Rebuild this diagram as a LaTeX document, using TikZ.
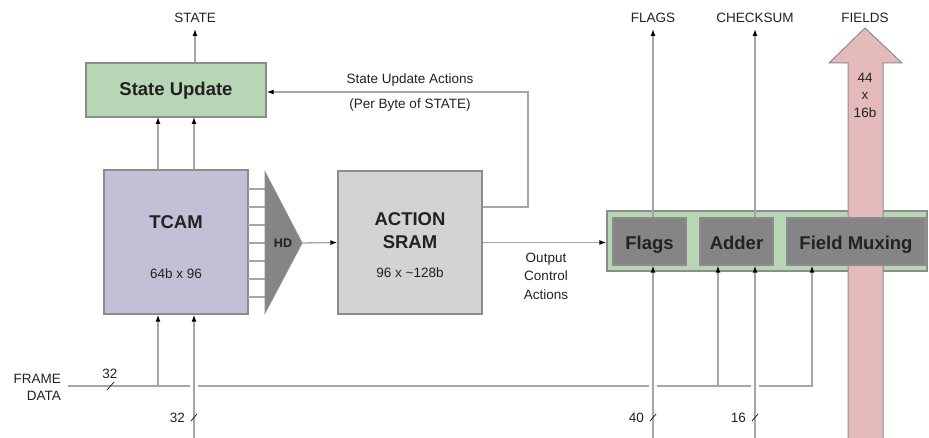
\documentclass[tikz,border=0pt]{standalone}
\usepackage{fontspec}
\setmainfont{Liberation Sans}
\usetikzlibrary{arrows.meta}
\definecolor{lineg}{HTML}{A6A6A6}
\definecolor{boxb}{HTML}{8C8C8C}
\definecolor{greenf}{HTML}{B6D6B5}
\definecolor{tcamf}{HTML}{C1C0D7}
\definecolor{sramf}{HTML}{D3D3D3}
\definecolor{darkf}{HTML}{858585}
\definecolor{pinkf}{HTML}{E5BABA}
\definecolor{txt}{HTML}{222222}
\begin{document}
\begin{tikzpicture}[x=1pt,y=-1pt,
  ln/.style={draw=lineg, line width=1.3pt},
  arr/.style={ln, -{Latex[length=7pt,width=5pt,color=black]}},
  box/.style={draw=boxb, line width=1.3pt, inner sep=0pt},
  lbl/.style={font=\fontsize{13.5}{17}\selectfont, text=txt, inner sep=1pt},
  big/.style={font=\fontsize{18.5}{22}\selectfont\bfseries, text=txt, inner sep=1pt},
  darkbox/.style={box, big, fill=darkf, minimum height=47pt, text height=16pt, text depth=0pt},
  slash/.style={draw=txt, line width=0.8pt}
]
\useasboundingbox (0,0) rectangle (929,438);
\fill[white] (0,0) rectangle (929,438);

% boxes
\node[box, fill=greenf, minimum width=180pt, minimum height=54pt] (su) at (176,90) {};
\node[big] (suT) at (176,91) {State Update};
\node[box, fill=tcamf, minimum width=144pt, minimum height=144pt] (tcam) at (176,242) {};
\draw[lineg!70, line width=1pt, dotted] (158,171) -- (158,313);
\draw[lineg!70, line width=1pt, dotted] (194,171) -- (194,313);
\node[big] (tcamT) at (176,222) {TCAM};
\node[lbl] (tcamS) at (176,274) {64b x 96};

% TCAM to HD lines
\foreach \yy in {189,207,225,243,261,279,297} \draw[ln] (248,\yy) -- (265,\yy);
\draw[draw=boxb, fill=darkf, line width=1pt] (265,172) coordinate (hdtop) -- (302,243) coordinate (hdtip) -- (265,313) -- cycle;
\node[font=\fontsize{12.5}{14}\selectfont\bfseries, text=txt, inner sep=0pt] (hdT) at (283,243) {HD};

\node[box, fill=sramf, minimum width=144pt, minimum height=143pt] (sram) at (410,242.5) {};
\node[big, align=center, font=\fontsize{18.5}{23}\selectfont\bfseries] (sramT) at (410,230.5) {ACTION\\SRAM};
\node[lbl] (sramS) at (410,273) {96 x \textasciitilde128b};

% output bar
\node[box, fill=greenf, minimum width=320pt, minimum height=60pt] (bar) at (767,241) {};
\draw[draw=boxb, fill=pinkf, line width=1pt] (848,438) -- (848,63) -- (829,63) -- (865,28) coordinate (fieldtip) -- (902,63) -- (883,63) -- (883,438);
\node[darkbox, minimum width=73pt] (flags) at (649.5,241.5) {Flags};
\node[darkbox, minimum width=73pt] (adder) at (736.5,241.5) {Adder};
\node[darkbox, minimum width=138pt] (fm) at (856,241.5) {Field Muxing};

% top labels
\node[lbl] (stateL) at (195,18) {STATE};
\node[lbl] (flagsL) at (653,18) {FLAGS};
\node[lbl] (checkL) at (755,18) {CHECKSUM};
\node[lbl] (fieldsL) at (865,18) {FIELDS};
\node[lbl, align=center, font=\fontsize{13.5}{17.5}\selectfont] (fldn) at (865,95) {44\\x\\16b};
\node[lbl] (sua) at (410,80) {State Update Actions};
\node[lbl] (pbs) at (410,105) {(Per Byte of STATE)};
\node[lbl, align=center, font=\fontsize{13.5}{18.5}\selectfont] (oca) at (546,276) {Output\\Control\\Actions};
\node[lbl, align=right, anchor=east] (fdL) at (62,387) {FRAME\\DATA};

% output arrows
\draw[arr] (su.north -| stateL) -- (195,29);
\draw[arr] (flags.north -| flagsL) -- (653,29);
\draw[arr] (adder.north -| checkL) -- (755,29);

% TCAM to State Update
\draw[arr] (158,170) -- (158,117);
\draw[arr] (194,170) -- (194,117);

% HD to SRAM
\draw[arr] (hdtip) -- (sram.west);
% feedback
\draw[arr] ([yshift=35.5pt]sram.east) -- (528,207) -- (528,92) -- (su.east |- 0,92);
% output control
\draw[arr] (sram.east) -- (sram.east -| bar.west);

% bottom inputs
\coordinate (fd) at (68,386);
\coordinate (in32) at (194,438);
\coordinate (in40) at (653,438);
\coordinate (in16) at (755,438);
\draw[ln] (fd) -- (190,386);
\draw[ln] (198,386) -- (649,386);
\draw[ln] (657,386) -- (751,386);
\draw[arr] (759,386) -- (812,386) -- (fm.south -| 812,0);
\draw[arr] (158,386) -- (tcam.south -| 158,0);
\draw[arr] (in32) -- (tcam.south -| in32);
\draw[arr] (718,386) -- (adder.south -| 718,0);
\draw[arr] (in40) -- (flags.south -| in40);
\draw[arr] (in16) -- (adder.south -| in16);

% bus width marks
\draw[slash] (107,390) -- (114,382);
\node[lbl] (w32a) at (110,374) {32};
\draw[slash] (191,421) -- (197,414);
\node[lbl, anchor=east] (w32b) at (186,418) {32};
\draw[slash] (650,421) -- (656,414);
\node[lbl, anchor=east] (w40) at (645,418) {40};
\draw[slash] (752,421) -- (758,414);
\node[lbl, anchor=east] (w16) at (747,418) {16};
\end{tikzpicture}
\end{document}
